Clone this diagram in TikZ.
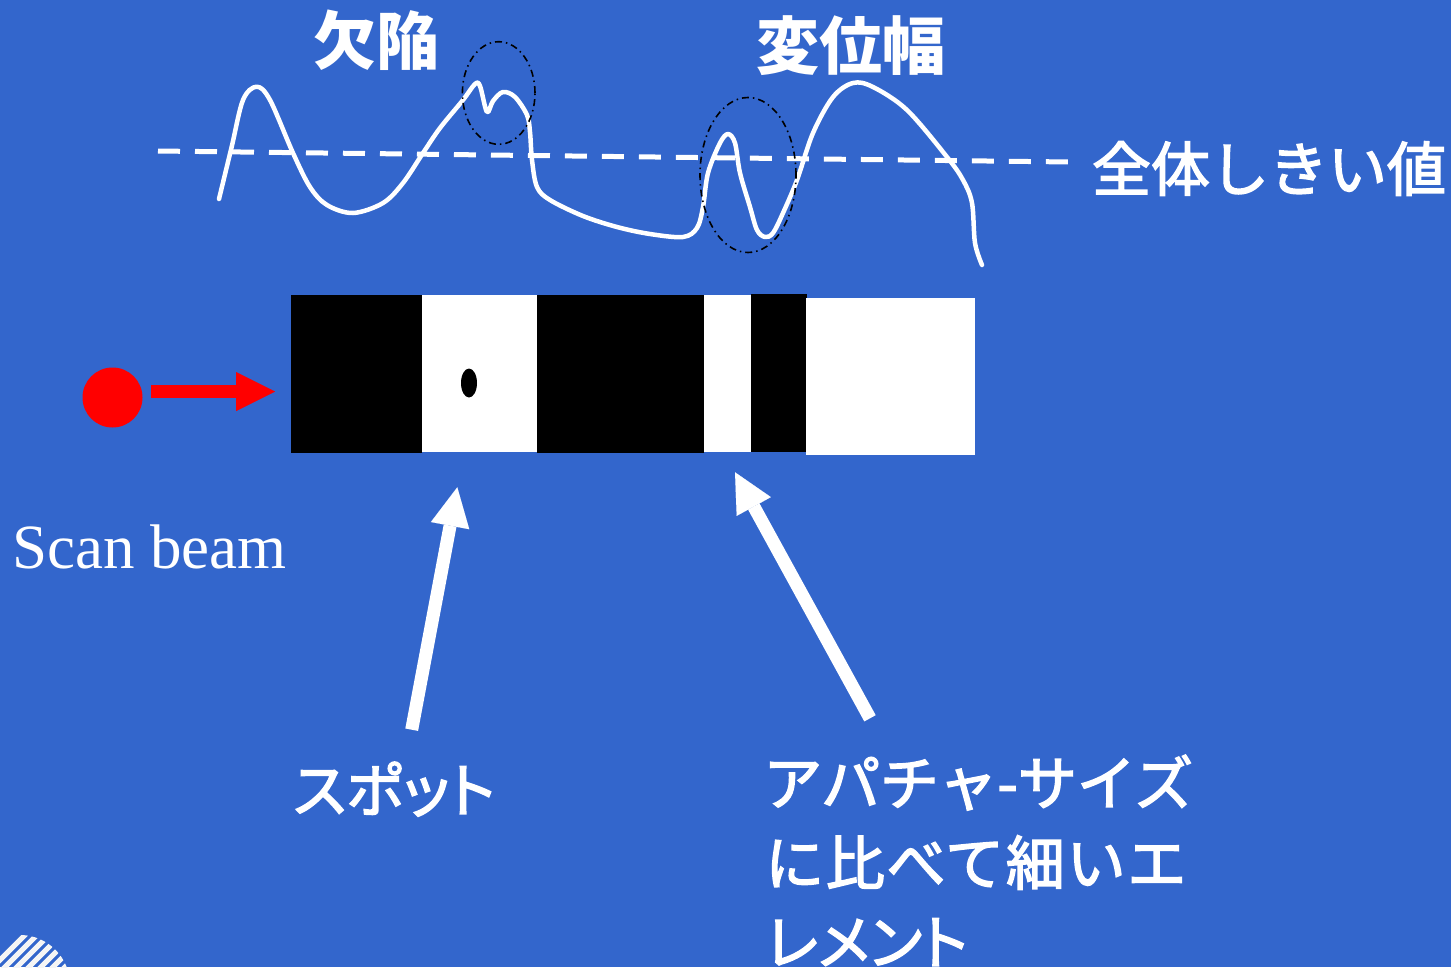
\documentclass[tikz,border=0pt]{standalone}
\usepackage{fontspec}
\setmainfont{Liberation Serif}
\newfontfamily\jpfont{Noto Sans CJK JP}
\newfontfamily\jpmed[FakeBold=2.5]{Noto Sans CJK JP}
\newfontfamily\jpmedp[FakeBold=2.5,RawFeature=+palt]{Noto Sans CJK JP}
\newfontfamily\jpmedw[FakeBold=2.5,LetterSpace=3]{Noto Sans CJK JP}
\usetikzlibrary{arrows.meta}
\definecolor{bg}{RGB}{51,102,204}
\definecolor{beamred}{RGB}{255,0,0}
\begin{document}
\begin{tikzpicture}[x=1pt,y=-1pt,
  jp/.style={text=white, inner sep=0pt, font=\jpmed\fontsize{59}{72}\selectfont},
  jpp/.style={text=white, inner sep=0pt, font=\jpmedp\fontsize{59}{72}\selectfont},
  jpw/.style={text=white, inner sep=0pt, font=\jpmedw\fontsize{59}{72}\selectfont},
  jptitle/.style={text=white, inner sep=0pt, font=\jpfont\bfseries\fontsize{63}{72}\selectfont},
  bigarrow/.style={draw=white, line width=13pt, line cap=butt,
     -{Triangle[length=39pt,width=39pt,line width=0.01pt]}},
  redarrow/.style={draw=beamred, line width=13pt, line cap=butt,
     -{Triangle[length=39pt,width=39pt,line width=0.01pt]}},
  wave/.style={draw=white, line width=4.5pt, line cap=round, line join=round},
  thresh/.style={draw=white, line width=5pt, dash pattern=on 22pt off 15pt},
  ring/.style={draw=black, line width=1.6pt, dash pattern=on 7pt off 4pt on 1.5pt off 4pt},
]
\useasboundingbox (0,0) rectangle (1451,967);
\fill[bg] (0,0) rectangle (1451,967);

% hatched disc at bottom-left corner
\begin{scope}
  \clip (20,985) circle [radius=50pt];
  \foreach \k in {-80,-68,...,120}{
    \draw[white!92!gray, line width=5pt] (\k,1040) -- (\k+110,930);
  }
\end{scope}

% threshold line
\draw[thresh] (158,151) -- (1070,162);

% signal waveform
\draw[wave] plot[smooth, tension=0.55] coordinates {
 (219,199) (231.7,146.7) (243,100) (256.7,86.7) (270,100) (293,153) (310,187)
 (327,205) (353,213) (383,203) (403,183) (423,153) (440,128) (463,100) (475,84)
 (480,86) (487,112) (493,101) (503,92) (515,97) (527,115) (530,132) (532,160)
 (537,187) (550,200) (583,216) (617,227) (650,234) (683,237) (697,228) (703,207)
 (708,173) (720,143) (728,134) (735,143) (740,173) (750,207) (757,230) (765,237)
 (773,233) (783,213) (797,180) (813,133) (833,97) (853,83) (873,87) (907,110)
 (947,157) (963,180) (972,203) (975,243) (982,265)};

% dash-dot ellipses
\draw[ring] (498.7,93) ellipse [x radius=36.3pt, y radius=51.3pt];
\draw[ring] (748,175) ellipse [x radius=48pt, y radius=77.5pt];

% labels
\node[jptitle, anchor=base] (defect) at (376,64) {欠陥};
\node[jptitle, anchor=base] (disp) at (850.5,69) {変位幅};
\node[jp, anchor=base] (thr) at (1269,191) {全体しきい値};

% bar pattern
\fill[black] (291,295) rectangle (422,452.7);
\fill[white] (422,295) rectangle (537,452);
\fill[black] (537,295) rectangle (704,453);
\fill[white] (704,295) rectangle (751,452);
\fill[black] (751,294) rectangle (807,452);
\fill[white] (806,298) rectangle (975,455);
\fill[black] (469,383) ellipse [x radius=8pt, y radius=14.5pt];

% scan beam
\fill[beamred] (112.5,397.5) circle [radius=30pt];
\coordinate (beamtail) at (151,391.5);
\coordinate (beamtip) at (275,391.5);
\draw[redarrow] (beamtail) -- (beamtip);
\node[text=white, inner sep=0pt, anchor=base west, font=\fontsize{63}{72}\selectfont] (scan) at (12,568) {Scan beam};

% bottom labels
\node[jpp, anchor=base west] (spot) at (293,812) {スポット};
\node[jp, anchor=base west] (ap1) at (763,805) {アパチャ-サイズ};
\node[jpw, anchor=base west] (ap2) at (765,885) {に比べて細いエ};
\node[jpp, anchor=base west] (ap3) at (766,964) {レメント};

% pointer arrows
\coordinate (spottail) at (411.7,729.7);
\coordinate (spottip) at (457.3,487.3);
\draw[bigarrow] (spottail) -- (spottip);
\coordinate (aptail) at (870,718.3);
\coordinate (aptip) at (735,472.3);
\draw[bigarrow] (aptail) -- (aptip);
\end{tikzpicture}
\end{document}
